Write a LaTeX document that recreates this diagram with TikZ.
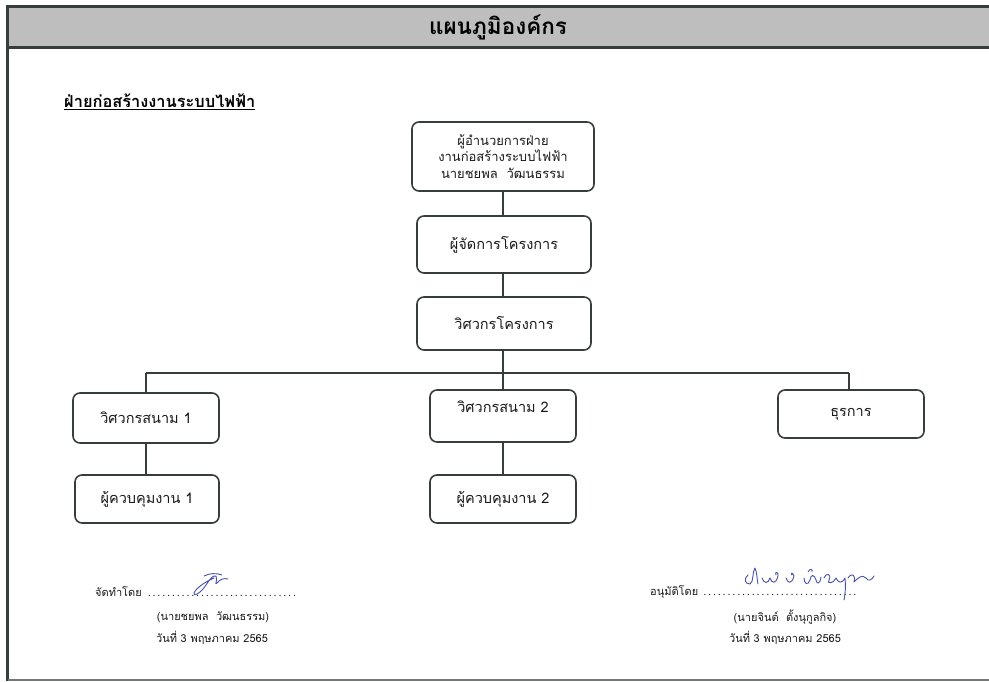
\documentclass[tikz,border=0pt]{standalone}
\usepackage{fontspec}
\newfontfamily\thai[Script=Thai]{Loma}
\setmainfont{Loma}[Script=Thai]
\definecolor{lineC}{RGB}{55,60,60}
\definecolor{headC}{RGB}{190,190,190}
\definecolor{inkC}{RGB}{70,80,170}
\tikzset{
  orgbox/.style={draw=lineC, line width=1.6pt, rounded corners=7pt, align=center, inner sep=2pt, font=\thai\fontsize{14.5}{17}\selectfont, text=black!90},
  link/.style={draw=lineC, line width=1.6pt},
  sigtext/.style={font=\thai\fontsize{11}{13}\selectfont, text=black!90, inner sep=0pt},
}
\begin{document}
\begin{tikzpicture}[x=1pt,y=-1pt]
\useasboundingbox (0,0) rectangle (989,682);
% header and frame
\fill[headC] (8,7) rectangle (995,47);
\draw[lineC, line width=2.5pt] (7.5,681) -- (7.5,6.5) -- (995,6.5);
\draw[lineC, line width=2.5pt] (7.5,47.5) -- (995,47.5);
\draw[lineC!70, line width=2pt] (7.5,680) -- (995,680);
\node (title) at (498,27) {\thai\bfseries\fontsize{22.5}{26}\selectfont แผนภูมิองค์กร};
\node[anchor=west, inner sep=0pt] (sub) at (64,102) {\thai\bfseries\fontsize{16.4}{19}\selectfont\underline{ฝ่ายก่อสร้างงานระบบไฟฟ้า}};
% boxes
\node[orgbox, minimum width=182pt, minimum height=69pt, font=\thai\fontsize{13}{16.5}\selectfont] (dir) at (503,156.5) {ผู้อำนวยการฝ่าย\\งานก่อสร้างระบบไฟฟ้า\\นายชยพล\ \ วัฒนธรรม};
\node[orgbox, minimum width=174pt, minimum height=57pt] (pm) at (504,244.5) {ผู้จัดการโครงการ};
\node[orgbox, minimum width=174pt, minimum height=53pt] (pe) at (504,323.5) {วิศวกรโครงการ};
\node[orgbox, minimum width=146pt, minimum height=50pt] (fe1) at (146,418) {วิศวกรสนาม 1};
\node[orgbox, minimum width=144pt, minimum height=48pt] (sv1) at (147,499) {ผู้ควบคุมงาน 1};
\node[orgbox, minimum width=146pt, minimum height=52pt, text depth=18pt] (fe2) at (503,416) {วิศวกรสนาม 2};
\node[orgbox, minimum width=146pt, minimum height=48pt] (sv2) at (503,499) {ผู้ควบคุมงาน 2};
\node[orgbox, minimum width=146pt, minimum height=48pt] (adm) at (851,414) {ธุรการ};
% connectors
\coordinate (busL) at (146,373);
\coordinate (busM) at (503,373);
\coordinate (busR) at (849,373);
\draw[link] (dir.south) -- (dir.south |- pm.north);
\draw[link] (pm.south -| dir.south) -- (pe.north -| dir.south);
\draw[link] (pe.south -| busM) -- (busM);
\draw[link] (busL) -- (busR);
\draw[link] (busL) -- (fe1.north);
\draw[link] (busM) -- (fe2.north);
\draw[link] (busR) -- (busR |- adm.north);
\draw[link] (fe1.south) -- (fe1.south |- sv1.north);
\draw[link] (fe2.south) -- (sv2.north);
% signatures
\node[sigtext, anchor=west] (prep) at (95,592) {จัดทำโดย\ \makebox[153pt]{\dotfill}};
\node[sigtext] (prepname) at (213,617) {(นายชยพล\ \ วัฒนธรรม)};
\node[sigtext] (prepdate) at (212,638) {วันที่ 3 พฤษภาคม 2565};
\node[sigtext, anchor=west] (appr) at (650,592) {อนุมัติโดย\ \makebox[156pt]{\dotfill}};
\node[sigtext] (apprname) at (785,617) {(นายจินต์\ \ ตั้งนุกูลกิจ)};
\node[sigtext] (apprdate) at (785,638) {วันที่ 3 พฤษภาคม 2565};
% handwritten marks
\draw[inkC, line width=0.9pt, line cap=round, line join=round]
  (214,578) .. controls (205,582) and (196,588) .. (194,593)
  .. controls (193,597) and (200,594) .. (206,585)
  .. controls (210,579) and (213,575) .. (216,576)
  .. controls (218,580) and (214,586) .. (217,583)
  .. controls (220,579) and (224,578) .. (228,579);
\draw[inkC, line width=0.9pt] (204,576) .. controls (210,573) and (216,573) .. (222,575);
\draw[inkC, line width=0.9pt, line cap=round, line join=round]
  (748,575) .. controls (744,578) and (744,584) .. (750,584)
  .. controls (754,582) and (752,572) .. (755,568)
  .. controls (757,572) and (757,580) .. (758,584)
  (762,578) .. controls (764,584) and (768,584) .. (770,578)
  .. controls (772,584) and (776,584) .. (778,576)
  .. controls (779,572) and (774,571) .. (776,575)
  (786,578) .. controls (788,584) and (792,584) .. (794,576)
  .. controls (793,572) and (790,573) .. (792,575);
\draw[inkC, line width=0.9pt, line cap=round, line join=round]
  (804,578) .. controls (804,584) and (808,586) .. (810,580)
  .. controls (811,574) and (814,574) .. (816,580)
  .. controls (817,585) and (820,584) .. (821,577)
  (824,578) .. controls (826,572) and (832,574) .. (829,580)
  .. controls (826,584) and (834,584) .. (836,578)
  .. controls (838,583) and (842,584) .. (845,578)
  (845,578) .. controls (846,588) and (845,595) .. (844,600)
  (848,578) .. controls (852,572) and (856,575) .. (854,582)
  .. controls (858,578) and (862,574) .. (866,578)
  .. controls (868,582) and (872,580) .. (874,576);
\draw[inkC, line width=0.9pt] (808,572) .. controls (810,568) and (813,569) .. (812,572);
\end{tikzpicture}
\end{document}
